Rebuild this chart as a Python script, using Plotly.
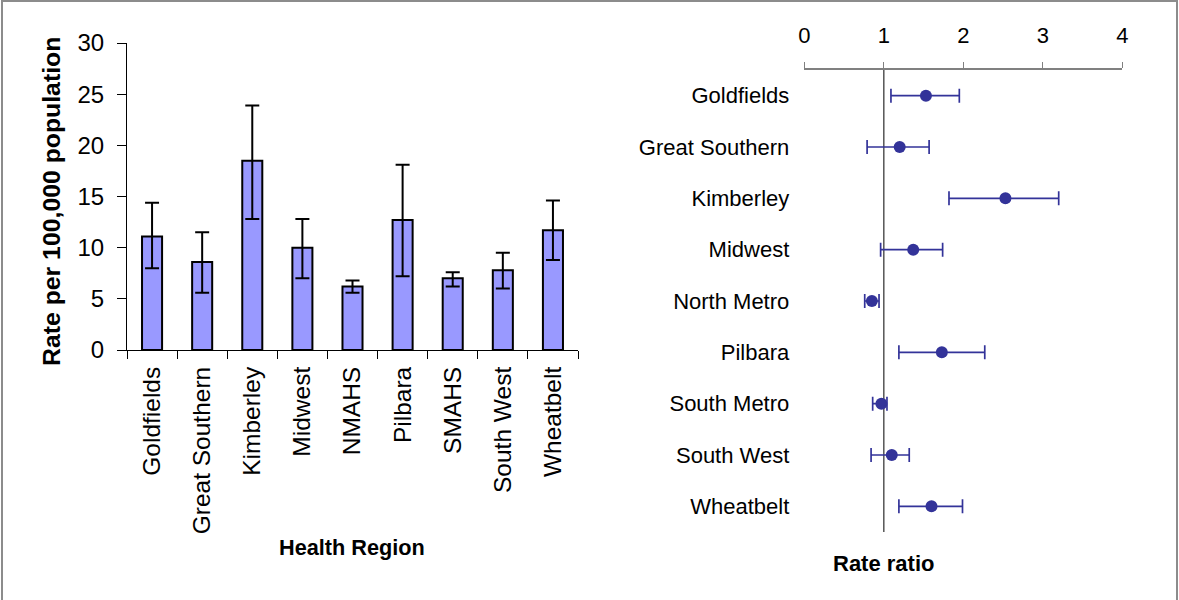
import plotly.graph_objects as go

# Age-standardised rate per 100,000 by health region, with 95% CI
regions = ["Goldfields", "Great Southern", "Kimberley", "Midwest", "NMAHS",
           "Pilbara", "SMAHS", "South West", "Wheatbelt"]
rate = [11.1, 8.6, 18.5, 10.0, 6.2, 12.7, 7.0, 7.8, 11.7]
rate_lower = [8.0, 5.6, 12.8, 7.0, 5.6, 7.2, 6.2, 6.0, 8.8]
rate_upper = [14.4, 11.5, 23.9, 12.8, 6.8, 18.1, 7.6, 9.5, 14.6]

# Rate ratio relative to the state, with 95% CI
ratio_regions = ["Goldfields", "Great Southern", "Kimberley", "Midwest", "North Metro",
                 "Pilbara", "South Metro", "South West", "Wheatbelt"]
ratio = [1.53, 1.20, 2.53, 1.37, 0.85, 1.73, 0.97, 1.10, 1.60]
ratio_lower = [1.09, 0.79, 1.82, 0.96, 0.76, 1.19, 0.86, 0.84, 1.19]
ratio_upper = [1.95, 1.57, 3.20, 1.74, 0.94, 2.27, 1.04, 1.32, 1.99]

W, H = 1179, 600
FONT = "Arial, 'Liberation Sans', sans-serif"


def px_x(p):
    return p / W


def px_y(p):
    return 1 - p / H


fig = go.Figure()

fig.add_trace(go.Bar(
    x=regions, y=rate, width=0.4,
    marker=dict(color="#9999FF", line=dict(color="#000000", width=2)),
    error_y=dict(type="data",
                 array=[u - v for u, v in zip(rate_upper, rate)],
                 arrayminus=[v - l for v, l in zip(rate, rate_lower)],
                 color="#000000", thickness=2, width=7),
    xaxis="x", yaxis="y", showlegend=False,
))

fig.add_trace(go.Scatter(
    x=ratio, y=ratio_regions, mode="markers",
    marker=dict(color="#333399", size=12),
    error_x=dict(type="data",
                 array=[u - v for u, v in zip(ratio_upper, ratio)],
                 arrayminus=[v - l for v, l in zip(ratio, ratio_lower)],
                 color="#333399", thickness=1.7, width=7),
    xaxis="x2", yaxis="y2", showlegend=False,
))

fig.update_layout(
    width=W, height=H,
    margin=dict(l=0, r=0, t=0, b=0, pad=0, autoexpand=False),
    paper_bgcolor="white", plot_bgcolor="white",
    font=dict(family=FONT, color="#000000"),
    xaxis=dict(
        domain=[px_x(127), px_x(578)], anchor="y",
        type="category", tickangle=-90, tickson="boundaries",
        ticks="outside", ticklen=8, tickcolor="#000000",
        showline=True, linecolor="#000000", linewidth=1,
        showgrid=False, tickfont=dict(size=24.5), ticklabelstandoff=6,
        automargin=False,
    ),
    yaxis=dict(
        domain=[px_y(350), px_y(43)], anchor="x",
        range=[0, 30], tickvals=[0, 5, 10, 15, 20, 25, 30],
        ticks="outside", ticklen=9, tickcolor="#000000",
        showline=True, linecolor="#000000", linewidth=1,
        showgrid=False, zeroline=False, tickfont=dict(size=24),
        ticklabelstandoff=8, automargin=False,
    ),
    xaxis2=dict(
        domain=[px_x(804.3), px_x(1122.3)], anchor="y2", side="top",
        range=[0, 4], tickvals=[0, 1, 2, 3, 4],
        ticks="outside", ticklen=6, tickcolor="#808080",
        showline=True, linecolor="#808080", linewidth=1.5,
        showgrid=False, zeroline=False, tickfont=dict(size=22),
        ticklabelstandoff=10, automargin=False,
    ),
    yaxis2=dict(
        domain=[px_y(532), px_y(70)], anchor="x2",
        type="category", range=[8.5, -0.5],
        ticks="", showline=False, showgrid=False, zeroline=False,
        tickfont=dict(size=22), ticklabelstandoff=14, automargin=False,
    ),
    shapes=[
        dict(type="line", xref="x2", yref="y2 domain", x0=1, x1=1, y0=0, y1=1,
             line=dict(color="#555555", width=1.5), layer="below"),
        dict(type="rect", xref="paper", yref="paper",
             x0=px_x(2), x1=px_x(1177), y0=-0.02, y1=px_y(1),
             line=dict(color="#8c8c8c", width=2)),
    ],
    annotations=[
        dict(text="<b>Rate per 100,000 population</b>", xref="paper", yref="paper",
             x=px_x(51), y=px_y(202), textangle=-90, showarrow=False,
             font=dict(size=24.8), xanchor="center", yanchor="middle"),
        dict(text="<b>Health Region</b>", xref="paper", yref="paper",
             x=px_x(352), y=px_y(547), showarrow=False,
             font=dict(size=21.7), xanchor="center", yanchor="middle"),
        dict(text="<b>Rate ratio</b>", xref="paper", yref="paper",
             x=px_x(883), y=px_y(563), showarrow=False,
             font=dict(size=22), xanchor="center", yanchor="middle"),
    ],
)

fig.write_html("out.html")
